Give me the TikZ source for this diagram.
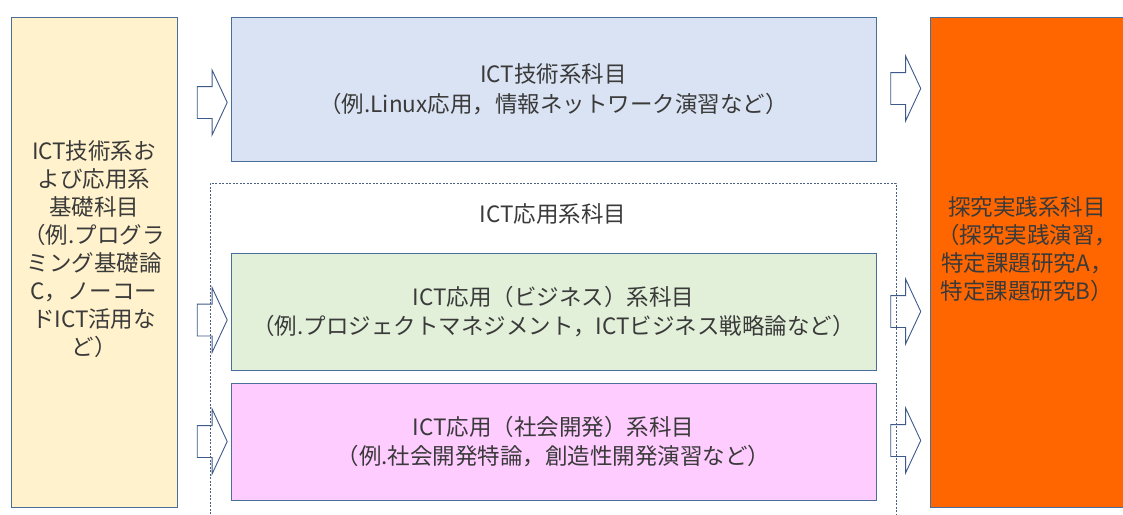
\documentclass[tikz,border=0pt]{standalone}
\usepackage{fontspec}
\setmainfont{Noto Sans CJK JP}
\usetikzlibrary{shapes.arrows}
\definecolor{boxline}{HTML}{4A6E9A}
\definecolor{arrowline}{HTML}{3D5A8A}
\definecolor{groupline}{HTML}{4D5F80}
\definecolor{txtgrey}{HTML}{3A3A3A}
\definecolor{basefill}{HTML}{FFF2CC}
\definecolor{techfill}{HTML}{DAE3F3}
\definecolor{bizfill}{HTML}{E2F0D9}
\definecolor{socfill}{HTML}{FFCCFF}
\definecolor{inqfill}{HTML}{FF6600}
\newcommand{\coursefont}{\fontsize{22.5}{29.5}\selectfont}
\newcommand{\sidefont}{\fontsize{22.5}{28}\selectfont}
\tikzset{
  course/.style={draw=boxline, line width=0.9pt, text=txtgrey, align=center,
    inner sep=0pt, font=\coursefont},
  blockarrow/.style={single arrow, draw=arrowline, fill=white, line width=0.9pt,
    minimum height=30pt, single arrow head extend=16.5pt,
    single arrow tip angle=130, inner xsep=0pt, inner ysep=15.5pt},
}
\begin{document}
\begin{tikzpicture}[x=1pt, y=-1pt]
    \useasboundingbox (0,0) rectangle (1123,514);
    % course boxes
    \node[course, font=\sidefont, fill=basefill, minimum width=166pt, minimum height=490pt] (base) at (94,262)
        {ICT技術系お\\よび応用系\\基礎科目\\（例.プログラ\\ミング基礎論\\C，ノーコー\\ドICT活用な\\ど）\\\mbox{}};
    \node[course, fill=techfill, minimum width=645pt, minimum height=144pt] (tech) at (553.5,89)
        {ICT技術系科目\\（例.Linux応用，情報ネットワーク演習など）};
    \node[course, fill=bizfill, minimum width=645pt, minimum height=117pt] (biz) at (553.5,311.5)
        {ICT応用（ビジネス）系科目\\（例.プロジェクトマネジメント，ICTビジネス戦略論など）};
    \node[course, fill=socfill, minimum width=645pt, minimum height=117pt] (soc) at (553.5,441.5)
        {ICT応用（社会開発）系科目\\（例.社会開発特論，創造性開発演習など）};
    \node[course, font=\sidefont, fill=inqfill, minimum width=194pt, minimum height=490pt] (inq) at (1027,262)
        {探究実践系科目\\（探究実践演習，\\特定課題研究A，\\特定課題研究B）\\\mbox{}};
    % block arrows
    \node[blockarrow] (inTech) at (208.5,102.5) {};
    \node[blockarrow] (inBiz) at (208.5,320) {};
    \node[blockarrow] (inSoc) at (208.5,441.5) {};
    \node[blockarrow] (outTech) at (902,88.5) {};
    \node[blockarrow] (outBiz) at (902,311.5) {};
    \node[blockarrow] (outSoc) at (902,440.5) {};
    % application group
    \draw[groupline, line width=0.8pt, dash pattern=on 2pt off 1.5pt]
        (210,514) -- (210,183) -- (896,183) -- (896,514);
    \node[text=txtgrey, font=\coursefont] (appl) at (553,214) {ICT応用系科目};
\end{tikzpicture}
\end{document}
